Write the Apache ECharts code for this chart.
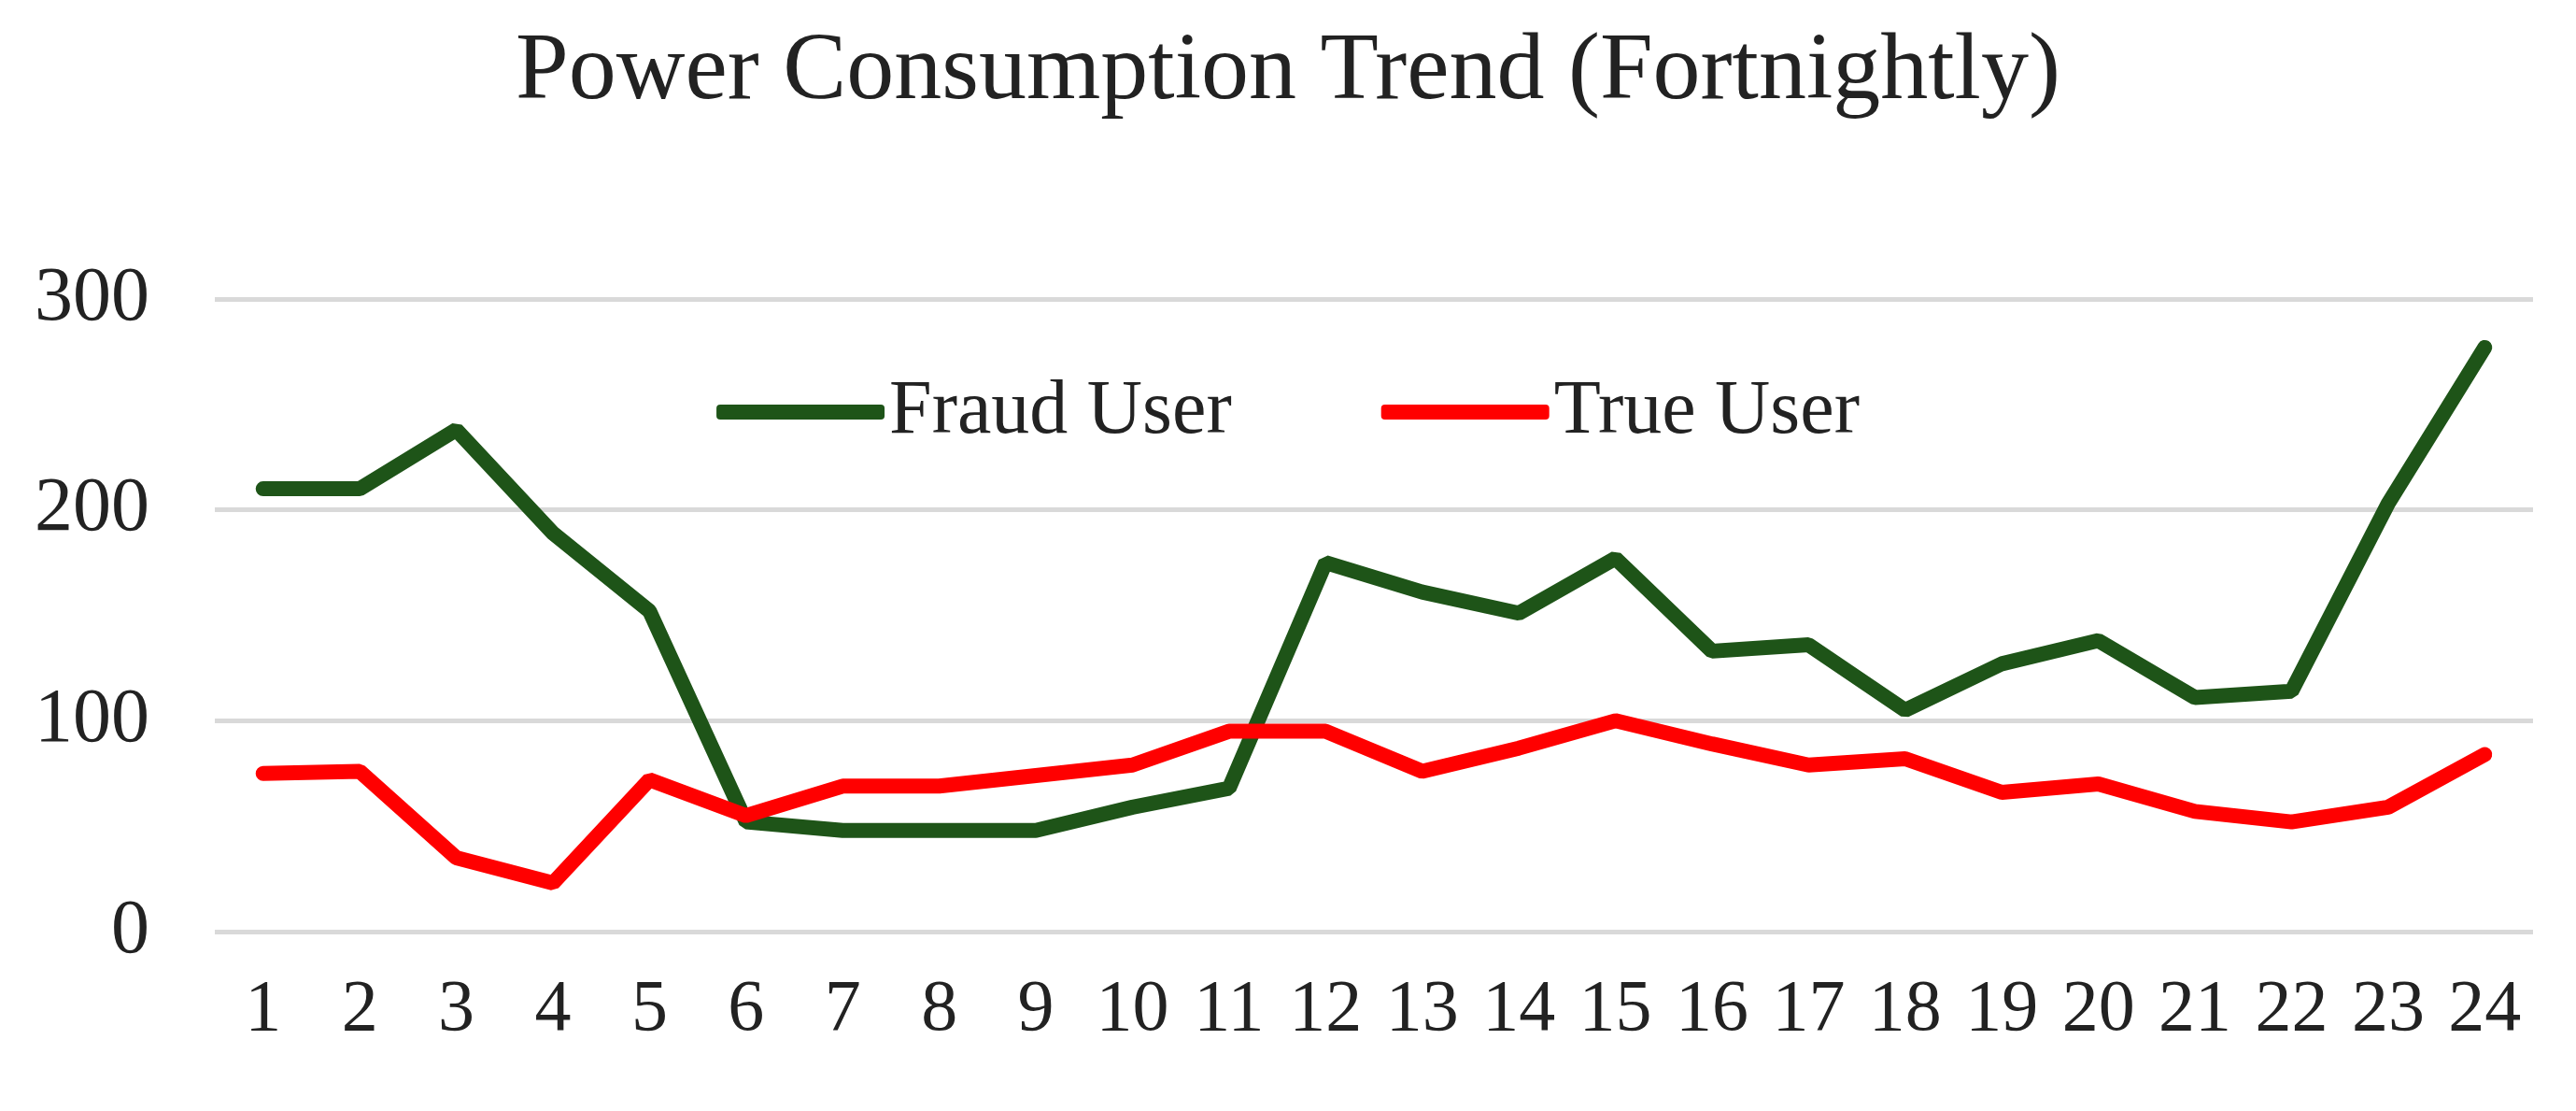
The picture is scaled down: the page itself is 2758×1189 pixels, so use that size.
<!DOCTYPE html>
<html><head><meta charset="utf-8">
<script src="https://cdn.jsdelivr.net/npm/echarts@6/dist/echarts.min.js"></script>
<style>html,body{margin:0;padding:0;background:#fff}#c{width:2758px;height:1189px}</style>
</head><body><div id="c"></div>
<script>
const categories = ['1','2','3','4','5','6','7','8','9','10','11','12','13','14','15','16','17','18','19','20','21','22','23','24'];
const fraudUser = [210,210,238,189,152,52,48,48,48,59,68,175,161,151,177,133,136,105,127,138,111,114,203,277];
const trueUser = [75,76,35,23,72,55,69,69,74,79,95,95,76,87,100,89,79,82,66,70,57,52,59,84];
const font = '"Liberation Serif", "DejaVu Serif", serif';
const chart = echarts.init(document.getElementById('c'));
chart.setOption({
  animation:false,
  title:{text:'Power Consumption Trend (Fortnightly)',left:'center',top:22,textStyle:{fontFamily:font,fontSize:102,fontWeight:'normal',color:'#222'}},
  legend:{top:395,left:'center',itemWidth:180,itemHeight:16,itemGap:160,
    textStyle:{fontFamily:font,fontSize:82,color:'#222'},
    data:[{name:'Fraud User',icon:'roundRect'},{name:'True User',icon:'roundRect'}]},
  grid:{left:230,right:46,top:320,bottom:192},
  xAxis:{type:'category',data:categories,boundaryGap:true,
    axisLine:{show:false},axisTick:{show:false},
    axisLabel:{fontFamily:font,fontSize:78,color:'#222',margin:46}},
  yAxis:{type:'value',min:0,max:300,interval:100,
    axisLabel:{fontFamily:font,fontSize:82,color:'#222',margin:70},
    splitLine:{lineStyle:{color:'#d9d9d9',width:5}}},
  series:[
    {name:'Fraud User',type:'line',data:fraudUser,symbol:'none',lineStyle:{color:'#1e5418',width:16,cap:'round'},itemStyle:{color:'#1e5418'}},
    {name:'True User',type:'line',data:trueUser,symbol:'none',lineStyle:{color:'#ff0000',width:16,cap:'round'},itemStyle:{color:'#ff0000'}}
  ]
});
</script></body></html>
